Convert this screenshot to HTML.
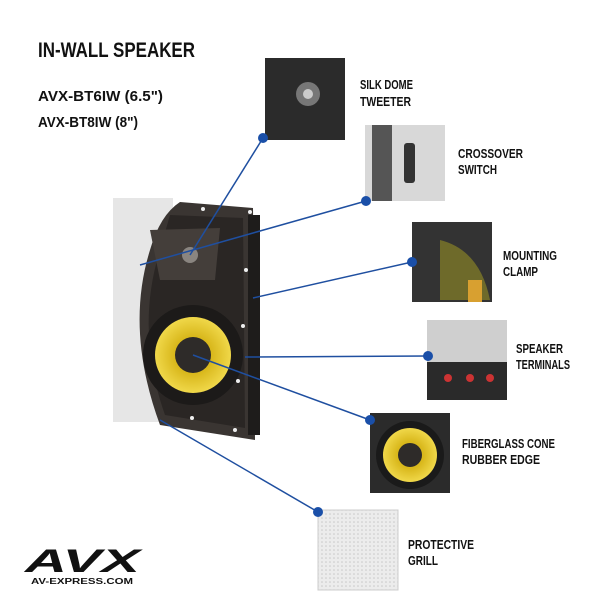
<!DOCTYPE html>
<html><head><style>
body{margin:0;background:#fff;}
svg text{font-family:"Liberation Sans",sans-serif;font-weight:bold;fill:#111;}
</style></head><body>
<svg width="600" height="600" viewBox="0 0 600 600" xmlns="http://www.w3.org/2000/svg">
<defs>
<radialGradient id="yl" cx="50%" cy="50%" r="50%"><stop offset="50%" stop-color="#d9b81c"/><stop offset="100%" stop-color="#f0d84a"/></radialGradient>
<pattern id="dots" width="4" height="4" patternUnits="userSpaceOnUse"><rect width="4" height="4" fill="#ececec"/><circle cx="2" cy="2" r="0.8" fill="#c9c9c9"/></pattern>
</defs>
<text x="38" y="57" font-size="21" textLength="157" lengthAdjust="spacingAndGlyphs">IN-WALL SPEAKER</text>
<text x="38" y="101" font-size="15" textLength="125" lengthAdjust="spacingAndGlyphs">AVX-BT6IW (6.5")</text>
<text x="38" y="127" font-size="15" textLength="100" lengthAdjust="spacingAndGlyphs">AVX-BT8IW (8")</text>
<!-- speaker -->
<rect x="113" y="198" width="60" height="224" fill="#e6e6e6"/>
<path d="M180 202 L253 208 L255 440 L160 425 Q125 330 150 250 Q160 215 180 202Z" fill="#3a3532"/>
<path d="M170 215 L243 218 L245 428 L165 415 Q135 330 160 250Z" fill="#2a2624"/>
<path d="M150 230 L220 228 L215 280 L160 280Z" fill="#443e3a"/>
<circle cx="190" cy="255" r="8" fill="#8a8580"/>
<rect x="248" y="215" width="12" height="220" fill="#1e1c1b"/>
<circle cx="193" cy="355" r="50" fill="#1c1a19"/>
<circle cx="193" cy="355" r="38" fill="url(#yl)"/>
<circle cx="193" cy="355" r="18" fill="#2e2b29"/>
<g fill="#eee"><circle cx="203" cy="209" r="2"/><circle cx="250" cy="212" r="2"/><circle cx="246" cy="270" r="2"/><circle cx="243" cy="326" r="2"/><circle cx="238" cy="381" r="2"/><circle cx="192" cy="418" r="2"/><circle cx="235" cy="430" r="2"/></g>
<!-- thumbnails -->
<rect x="265" y="58" width="80" height="82" fill="#2b2b2b"/><circle cx="308" cy="94" r="12" fill="#777"/><circle cx="308" cy="94" r="5" fill="#ccc"/>
<rect x="365" y="125" width="80" height="76" fill="#d8d8d8"/><rect x="372" y="125" width="20" height="76" fill="#555"/><rect x="404" y="143" width="11" height="40" rx="3" fill="#333"/>
<rect x="412" y="222" width="80" height="80" fill="#333"/><path d="M440 240 Q480 250 490 300 L440 300Z" fill="#6e6a2a"/><rect x="468" y="280" width="14" height="22" fill="#d8a030"/>
<rect x="427" y="320" width="80" height="80" fill="#cfcfcf"/><rect x="427" y="362" width="80" height="38" fill="#2a2a2a"/><g fill="#c33"><circle cx="448" cy="378" r="4"/><circle cx="470" cy="378" r="4"/><circle cx="490" cy="378" r="4"/></g>
<rect x="370" y="413" width="80" height="80" fill="#2b2b2b"/><circle cx="410" cy="455" r="34" fill="#1a1a1a"/><circle cx="410" cy="455" r="27" fill="url(#yl)"/><circle cx="410" cy="455" r="12" fill="#2e2b29"/>
<rect x="318" y="510" width="80" height="80" fill="url(#dots)" stroke="#ccc"/>
<!-- lines -->
<g stroke="#1f4fa0" stroke-width="1.5">
<line x1="263" y1="138" x2="190" y2="255"/>
<line x1="366" y1="201" x2="140" y2="265"/>
<line x1="412" y1="262" x2="253" y2="298"/>
<line x1="428" y1="356" x2="245" y2="357"/>
<line x1="370" y1="420" x2="193" y2="355"/>
<line x1="318" y1="512" x2="160" y2="420"/>
</g>
<g fill="#1a4fa8"><circle cx="263" cy="138" r="5"/><circle cx="366" cy="201" r="5"/><circle cx="412" cy="262" r="5"/><circle cx="428" cy="356" r="5"/><circle cx="370" cy="420" r="5"/><circle cx="318" cy="512" r="5"/></g>
<!-- labels -->
<g font-size="13">
<text x="360" y="89" textLength="53" lengthAdjust="spacingAndGlyphs">SILK DOME</text><text x="360" y="106" textLength="51" lengthAdjust="spacingAndGlyphs">TWEETER</text>
<text x="458" y="158" textLength="65" lengthAdjust="spacingAndGlyphs">CROSSOVER</text><text x="458" y="174" textLength="39" lengthAdjust="spacingAndGlyphs">SWITCH</text>
<text x="503" y="260" textLength="54" lengthAdjust="spacingAndGlyphs">MOUNTING</text><text x="503" y="276" textLength="35" lengthAdjust="spacingAndGlyphs">CLAMP</text>
<text x="516" y="353" textLength="47" lengthAdjust="spacingAndGlyphs">SPEAKER</text><text x="516" y="369" textLength="54" lengthAdjust="spacingAndGlyphs">TERMINALS</text>
<text x="462" y="448" textLength="93" lengthAdjust="spacingAndGlyphs">FIBERGLASS CONE</text><text x="462" y="464" textLength="78" lengthAdjust="spacingAndGlyphs">RUBBER EDGE</text>
<text x="408" y="549" textLength="66" lengthAdjust="spacingAndGlyphs">PROTECTIVE</text><text x="408" y="565" textLength="30" lengthAdjust="spacingAndGlyphs">GRILL</text>
</g>
<!-- logo -->
<text x="25" y="572" font-size="32" font-style="italic" textLength="115" lengthAdjust="spacingAndGlyphs">AVX</text>
<text x="31" y="584" font-size="8" font-weight="normal" textLength="102" lengthAdjust="spacingAndGlyphs">AV-EXPRESS.COM</text>
</svg>
</body></html>
